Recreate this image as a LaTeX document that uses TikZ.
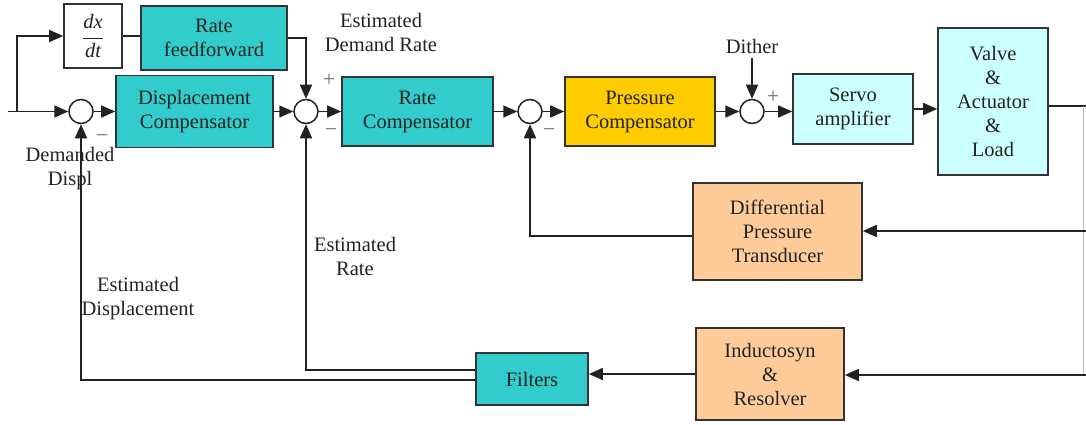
\documentclass[tikz,border=0pt]{standalone}
\usepackage{fontspec}
\setmainfont{Liberation Serif}
\usetikzlibrary{arrows.meta}
\definecolor{teal}{RGB}{51,204,204}
\definecolor{gold}{RGB}{255,204,0}
\definecolor{paleblue}{RGB}{204,255,255}
\definecolor{peach}{RGB}{255,204,153}
\definecolor{ink}{RGB}{34,34,34}
\definecolor{edge}{RGB}{51,51,51}
\tikzset{
  blk/.style={draw=edge, line width=1.6pt, inner sep=0pt, align=center,
    text=ink, font=\fontsize{20.5}{24}\selectfont},
  sumpt/.style={circle, draw=ink, line width=1.5pt, fill=white,
    minimum size=24pt, inner sep=0pt},
  lbl/.style={text=ink, align=center, inner sep=0pt,
    font=\fontsize{20.5}{24}\selectfont},
  sgn/.style={text=ink!65, inner sep=0pt, font=\fontsize{22}{24}\selectfont},
  wire/.style={draw=ink, line width=1.6pt},
  arr/.style={wire, -{Triangle[length=14pt,width=12pt]}},
}
\begin{document}
\begin{tikzpicture}[x=1pt,y=-1pt]
\useasboundingbox (0,0) rectangle (1086,425);

% blocks
\node[blk, fill=white, minimum width=58pt, minimum height=64pt] (dxdt) at (93,36)
  {$\displaystyle\frac{\textit{dx}}{\textit{dt}}$};
\node[blk, fill=teal, minimum width=146pt, minimum height=64pt] (rateff) at (214,38)
  {Rate\\feedforward};
\node[blk, fill=teal, minimum width=157pt, minimum height=72pt] (disp) at (194.5,111.5)
  {Displacement\\Compensator};
\node[blk, fill=teal, minimum width=151pt, minimum height=69pt] (ratec) at (417.5,111.5)
  {Rate\\Compensator};
\node[blk, fill=gold, minimum width=150pt, minimum height=69pt] (press) at (640,111.5)
  {Pressure\\Compensator};
\node[blk, fill=paleblue, minimum width=120pt, minimum height=70pt] (servo) at (853,109)
  {Servo\\amplifier};
\node[blk, fill=paleblue, minimum width=110pt, minimum height=147pt] (valve) at (993,101.5)
  {Valve\\\&\\Actuator\\\&\\Load};
\node[blk, fill=peach, minimum width=169pt, minimum height=97pt] (diff) at (777.5,231.5)
  {Differential\\Pressure\\Transducer};
\node[blk, fill=peach, minimum width=148pt, minimum height=92pt] (induct) at (770,374)
  {Inductosyn\\\&\\Resolver};
\node[blk, fill=teal, minimum width=112pt, minimum height=52pt] (filters) at (532,379)
  {Filters};

% summing junctions
\node[sumpt] (s1) at (81,111.5) {};
\node[sumpt] (s2) at (306,111.5) {};
\node[sumpt] (s3) at (530,111.5) {};
\node[sumpt] (s4) at (752,111.5) {};

% free ends
\coordinate (in) at (8,111.5);
\coordinate (split) at (17,111.5);
\coordinate (dith) at (752,58);
\coordinate (tapT) at (1083,106);
\coordinate (tapB) at (1083,375);
\coordinate (edgeT) at (1086,106);
\coordinate (edgeM) at (1086,231);
\coordinate (edgeB) at (1086,375);

% forward path
\draw[arr] (in) -- (s1);
\draw[arr] (split) |- (dxdt.west);
\draw[wire] (dxdt.east) -- (rateff.west |- dxdt.east);
\draw[arr] (rateff.east) -| (s2.north);
\draw[arr] (s1) -- (disp);
\draw[arr] (disp) -- (s2);
\draw[arr] (s2) -- (ratec);
\draw[arr] (ratec) -- (s3);
\draw[arr] (s3) -- (press);
\draw[arr] (press) -- (s4);
\draw[arr] (dith) -- (s4);
\draw[arr] (s4.east) -- (s4.east -| servo.west);
\draw[arr] (servo.east) -- (servo.east -| valve.west);
\draw[wire] (valve.east |- edgeT) -- (edgeT);

% feedback paths
\draw[draw=ink!30, line width=1pt] (tapT) -- (tapB);
\draw[arr] (edgeM) -- (edgeM -| diff.east);
\draw[arr] (edgeB) -- (edgeB -| induct.east);
\draw[arr] ([yshift=-4.5pt]diff.west) -| (s3.south);
\draw[arr] (induct.west) -- (induct.west -| filters.east);
\draw[arr] ([yshift=9pt]filters.west) -| (s2.south);
\draw[arr] ([yshift=-1pt]filters.west) -| (s1.south);

% signal labels
\node[lbl] (ldem) at (381,32) {Estimated\\Demand Rate};
\node[lbl] (ldisp) at (70,169) {Demanded\\Displ};
\node[lbl] (lrate) at (355,256) {Estimated\\Rate};
\node[lbl] (lest) at (138,299) {Estimated\\Displacement};
\node[lbl] (ldith) at (752,46) {Dither};

% signs
\node[sgn] (p2) at (329,80) {+};
\node[sgn] (m2) at (331,133) {−};
\node[sgn] (m1) at (102,139) {−};
\node[sgn] (m3) at (549,133) {−};
\node[sgn] (p4) at (773,97) {+};
\end{tikzpicture}
\end{document}
